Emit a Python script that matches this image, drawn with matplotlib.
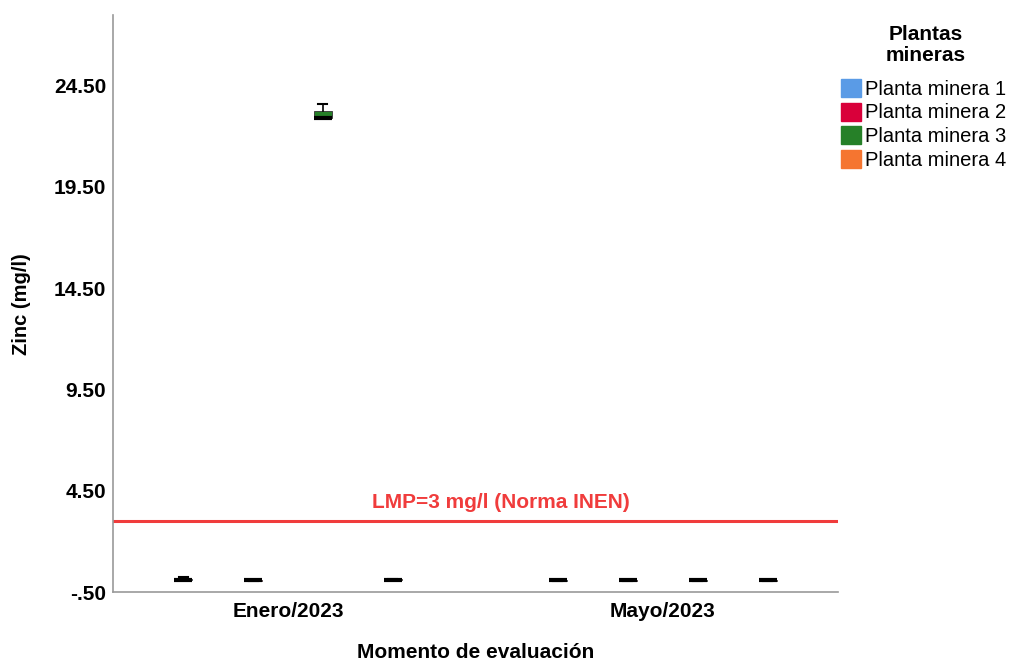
import matplotlib
matplotlib.use("Agg")
import matplotlib.pyplot as plt
from matplotlib.patches import Patch

plt.rcParams['font.family'] = ['Liberation Sans', 'DejaVu Sans']

groups = ["Enero/2023", "Mayo/2023"]
plants = ["Planta minera 1", "Planta minera 2", "Planta minera 3", "Planta minera 4"]
colors = ["#5A9BE6", "#D9003A", "#268028", "#F57530"]

# per group, per plant: (whislo, q1, med, q3, whishi)
enero_med = [0.12, 0.08, 22.88, 0.12]
enero_q1 = [0.10, 0.07, 22.88, 0.11]
enero_q3 = [0.14, 0.09, 23.22, 0.13]
enero_lo = [0.10, 0.07, 22.88, 0.11]
enero_hi = [0.27, 0.09, 23.58, 0.13]

mayo_med = [0.08, 0.08, 0.08, 0.08]
mayo_q1 = [0.07, 0.07, 0.07, 0.07]
mayo_q3 = [0.09, 0.09, 0.09, 0.09]
mayo_lo = [0.07, 0.07, 0.07, 0.07]
mayo_hi = [0.09, 0.09, 0.09, 0.09]

yticks = [-0.50, 4.50, 9.50, 14.50, 19.50, 24.50]
ytick_labels = ["-.50", "4.50", "9.50", "14.50", "19.50", "24.50"]
lmp = 3.0

W, H = 1013, 661
fig = plt.figure(figsize=(10.13, 6.61), dpi=100)
ax = fig.add_axes([0.1115, 0.104, 0.827 - 0.1115, 0.977 - 0.104])

offsets = [-0.28, -0.093, 0.093, 0.28]
width = 0.048
data = [(enero_lo, enero_q1, enero_med, enero_q3, enero_hi),
        (mayo_lo, mayo_q1, mayo_med, mayo_q3, mayo_hi)]
for g, (lo, q1, med, q3, hi) in enumerate(data):
    for p in range(4):
        st = [dict(med=med[p], q1=q1[p], q3=q3[p], whislo=lo[p], whishi=hi[p], fliers=[])]
        ax.bxp(st, positions=[g + offsets[p]], widths=width, patch_artist=True,
               showcaps=True, manage_ticks=False,
               boxprops=dict(facecolor=colors[p], edgecolor='#333333', linewidth=0.6),
               medianprops=dict(color='black', linewidth=3),
               whiskerprops=dict(color='black', linewidth=1.2),
               capprops=dict(color='black', linewidth=1.5),
               capwidths=width * 0.5)

ax.axhline(lmp, color='#F03C3C', linewidth=2.2)
ax.text(0.568, lmp + 0.45, "LMP=3 mg/l (Norma INEN)", color='#F03C3C',
        fontsize=15, fontweight='bold', ha='center', va='bottom')

ax.set_xlim(-0.467, 1.467)
ax.set_ylim(-0.5, 27.95)
ax.set_yticks(yticks)
ax.set_yticklabels(ytick_labels, fontsize=15, fontweight='bold')
ax.set_xticks([0, 1])
ax.set_xticklabels(groups, fontsize=15, fontweight='bold')
ax.tick_params(axis='y', length=0, pad=5)
ax.tick_params(axis='x', length=0, pad=7)
ax.set_ylabel("Zinc (mg/l)", fontsize=14.5, fontweight='bold', va='center')
ax.yaxis.set_label_coords(-0.1255, 0.5)
ax.set_xlabel("Momento de evaluación", fontsize=15, fontweight='bold', va='center')
ax.xaxis.set_label_coords(0.5, -0.104)
for s in ['top', 'right']:
    ax.spines[s].set_visible(False)
for s in ['left', 'bottom']:
    ax.spines[s].set_color('#999999')
    ax.spines[s].set_linewidth(1.2)

fig.text(926 / W, 1 - 45 / H, "Plantas\nmineras", fontsize=15, fontweight='bold',
         ha='center', va='center', linespacing=1.15)

handles = [Patch(facecolor=c, edgecolor=c, label=l) for c, l in zip(colors, plants)]
leg = fig.legend(handles=handles, loc='upper left',
                 bbox_to_anchor=(841 / W, 1 - 79 / H), frameon=False, fontsize=14.5,
                 handlelength=1.0, handleheight=1.0, handletextpad=0.2,
                 labelspacing=0.18, borderpad=0.0, borderaxespad=0.0)

fig.savefig("out.png", dpi=100)
